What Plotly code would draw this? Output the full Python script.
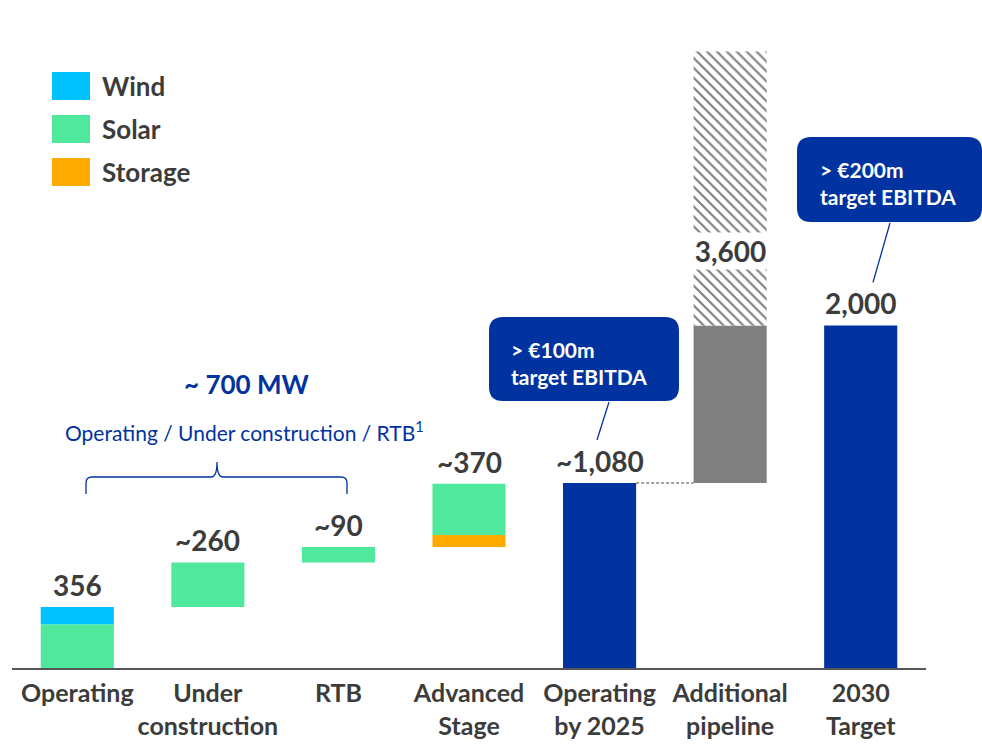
import numpy as np
import plotly.graph_objects as go

# ---- data -------------------------------------------------------------
categories = ["Operating", "Under<br>construction", "RTB", "Advanced<br>Stage",
              "Operating<br>by 2025", "Additional<br>pipeline", "2030<br>Target"]

# build-up stages (MW) split by technology
stage_storage = [0, 0, 0, 70]
stage_solar = [256, 260, 90, 300]
stage_wind = [100, 0, 0, 0]

operating_2025 = 1080
target_2030 = 2000
pipeline_total = 3600

value_labels = ["356", "~260", "~90", "~370", "~1,080", "3,600", "2,000"]
callout_texts = ["> €100m<br>target EBITDA", "> €200m<br>target EBITDA"]
legend_names = ["Wind", "Solar", "Storage"]

# ---- styling ----------------------------------------------------------
C_WIND = "#00C2FF"
C_SOLAR = "#50E89C"
C_STORAGE = "#FFAA00"
C_NAVY = "#0033A0"
C_GREY = "#808080"
C_TEXT = "#3C3C3C"
FONT = "Lato"
BAR_W = 0.56
Y_MAX = 3900

W, H = 982, 744
PL, PR, PT, PB = 12, 926, 0, 668


def px(x):
    return (x - PL) / (PR - PL)


def py(y):
    return (PB - y) / (PB - PT)


def value_to_px(v):
    return PB - v * (PB - PT) / Y_MAX


stage_cats = categories[:4]
stage_total = np.array(stage_storage) + np.array(stage_solar) + np.array(stage_wind)
stage_start = np.concatenate([[0], np.cumsum(stage_total)[:-1]])
storage_base = stage_start
solar_base = storage_base + np.array(stage_storage)
wind_base = solar_base + np.array(stage_solar)

fig = go.Figure()

fig.add_bar(x=stage_cats, y=stage_storage, base=storage_base, marker_color=C_STORAGE,
            width=BAR_W, name="Storage")
fig.add_bar(x=stage_cats, y=stage_solar, base=solar_base, marker_color=C_SOLAR,
            width=BAR_W, name="Solar")
fig.add_bar(x=stage_cats, y=stage_wind, base=wind_base, marker_color=C_WIND,
            width=BAR_W, name="Wind")
fig.add_bar(x=[categories[4], categories[6]], y=[operating_2025, target_2030],
            marker_color=C_NAVY, width=BAR_W, name="Total")
fig.add_bar(x=[categories[5]], y=[target_2030 - operating_2025], base=[operating_2025],
            marker_color=C_GREY, width=BAR_W, name="Pipeline")
fig.add_bar(x=[categories[5]], y=[pipeline_total - target_2030], base=[target_2030],
            marker=dict(color="white",
                        pattern=dict(shape="\\", fgcolor="#000000", bgcolor="white",
                                     size=7, solidity=0.3)),
            width=BAR_W, name="Pipeline (further)")

fig.update_traces(marker_line_width=0, showlegend=False, hoverinfo="skip")

annotations = []
shapes = []
LABEL_SIZE = 28

# value labels above each bar
tops = list(stage_start + stage_total) + [operating_2025, None, target_2030]
for cat, lab, top in zip(categories, value_labels, tops):
    if top is None:
        continue
    annotations.append(dict(x=cat, y=top, xref="x", yref="y", text=f"<b>{lab}</b>",
                            showarrow=False, yanchor="bottom", yshift=3,
                            font=dict(family=FONT, size=LABEL_SIZE, color=C_TEXT)))
# pipeline total label sits inside the hatched segment
annotations.append(dict(x=categories[5], y=target_2030 + 0.27 * (pipeline_total - target_2030),
                        xref="x", yref="y", text=f"<b>{value_labels[5]}</b>",
                        showarrow=False, yanchor="middle", bgcolor="white",
                        width=BAR_W * 130.5 + 2,
                        font=dict(family=FONT, size=LABEL_SIZE, color=C_TEXT)))

# dashed connector from 2025 bar to pipeline base
shapes.append(dict(type="line", xref="x", yref="y", x0=4 + BAR_W / 2, x1=5 - BAR_W / 2,
                   y0=operating_2025, y1=operating_2025,
                   line=dict(color="#444444", width=1, dash="3px,2px")))

# legend
leg_y = [86, 129, 172]
leg_c = [C_WIND, C_SOLAR, C_STORAGE]
for name, yc, col in zip(legend_names, leg_y, leg_c):
    shapes.append(dict(type="rect", xref="paper", yref="paper", x0=px(52), x1=px(90),
                       y0=py(yc + 14), y1=py(yc - 14), fillcolor=col, line_width=0))
    annotations.append(dict(x=px(100), y=py(yc), xref="paper", yref="paper",
                            text=f"<b>{name}</b>", showarrow=False, xanchor="left",
                            yanchor="middle", font=dict(family=FONT, size=26, color=C_TEXT)))

# brace over the first three stages
annotations.append(dict(x=px(247), y=py(384), xref="paper", yref="paper",
                        text="<b>~ 700 MW</b>", showarrow=False,
                        xanchor="center", yanchor="middle",
                        font=dict(family=FONT, size=26, color=C_NAVY)))
annotations.append(dict(x=px(245), y=py(431), xref="paper", yref="paper",
                        text="Operating / Under construction / RTB<sup>1</sup>",
                        showarrow=False, xanchor="center", yanchor="middle",
                        font=dict(family=FONT, size=21, color=C_NAVY)))


def brace_path(x0, x1, xm, yb, yh, ytip, r=6):
    pts = [
        f"M {px(x0)},{py(yb)}",
        f"L {px(x0)},{py(yh + r)}",
        f"Q {px(x0)},{py(yh)} {px(x0 + r)},{py(yh)}",
        f"L {px(xm - r)},{py(yh)}",
        f"Q {px(xm)},{py(yh)} {px(xm)},{py(ytip)}",
        f"Q {px(xm)},{py(yh)} {px(xm + r)},{py(yh)}",
        f"L {px(x1 - r)},{py(yh)}",
        f"Q {px(x1)},{py(yh)} {px(x1)},{py(yh + r)}",
        f"L {px(x1)},{py(yb)}",
    ]
    return " ".join(pts)


shapes.append(dict(type="path", xref="paper", yref="paper",
                   path=brace_path(86, 347, 217, 494, 477, 462),
                   line=dict(color=C_NAVY, width=1.3)))


def rounded_rect(x0, y0, x1, y1, r=14):
    return " ".join([
        f"M {px(x0 + r)},{py(y0)}",
        f"L {px(x1 - r)},{py(y0)}",
        f"Q {px(x1)},{py(y0)} {px(x1)},{py(y0 + r)}",
        f"L {px(x1)},{py(y1 - r)}",
        f"Q {px(x1)},{py(y1)} {px(x1 - r)},{py(y1)}",
        f"L {px(x0 + r)},{py(y1)}",
        f"Q {px(x0)},{py(y1)} {px(x0)},{py(y1 - r)}",
        f"L {px(x0)},{py(y0 + r)}",
        f"Q {px(x0)},{py(y0)} {px(x0 + r)},{py(y0)} Z",
    ])


# EBITDA callouts; leader lines stop just above the value label of their bar
callouts = [
    dict(box=(489, 317, 679, 401), text=callout_texts[0], tx=509, ty=363,
         start=(609, 402), end_x=597, value=operating_2025),
    dict(box=(797, 137, 982, 222), text=callout_texts[1], tx=818, ty=183,
         start=(890, 223), end_x=873, value=target_2030),
]
for c in callouts:
    x0, y0, x1, y1 = c["box"]
    shapes.append(dict(type="path", xref="paper", yref="paper",
                       path=rounded_rect(x0, y0, x1, y1), fillcolor=C_NAVY, line_width=0))
    lx0, ly0 = c["start"]
    ly1 = value_to_px(c["value"]) - 3 - 40
    shapes.append(dict(type="line", xref="paper", yref="paper", x0=px(lx0), y0=py(ly0),
                       x1=px(c["end_x"]), y1=py(ly1), line=dict(color=C_NAVY, width=1.3)))
    annotations.append(dict(x=px(c["tx"]), y=py(c["ty"]), xref="paper", yref="paper",
                            text=f"<b>{c['text']}</b>", showarrow=False, xanchor="left",
                            yanchor="middle", align="left",
                            font=dict(family=FONT, size=21, color="white", weight="bold")))

fig.update_layout(
    width=W, height=H,
    margin=dict(l=PL, r=W - PR, t=PT, b=H - PB, autoexpand=False),
    barmode="overlay",
    plot_bgcolor="white", paper_bgcolor="white",
    annotations=annotations, shapes=shapes,
    xaxis=dict(type="category", categoryarray=categories, showgrid=False,
               showline=True, linecolor="#555555", linewidth=2, ticks="",
               tickangle=0, automargin=False,
               tickfont=dict(family=FONT, size=25, color=C_TEXT),
               ticklabelstandoff=2, fixedrange=True),
    yaxis=dict(range=[0, Y_MAX], visible=False, fixedrange=True),
)
fig.update_xaxes(tickvals=categories, ticktext=[f"<b>{c}</b>" for c in categories])

fig.write_html("out.html")
